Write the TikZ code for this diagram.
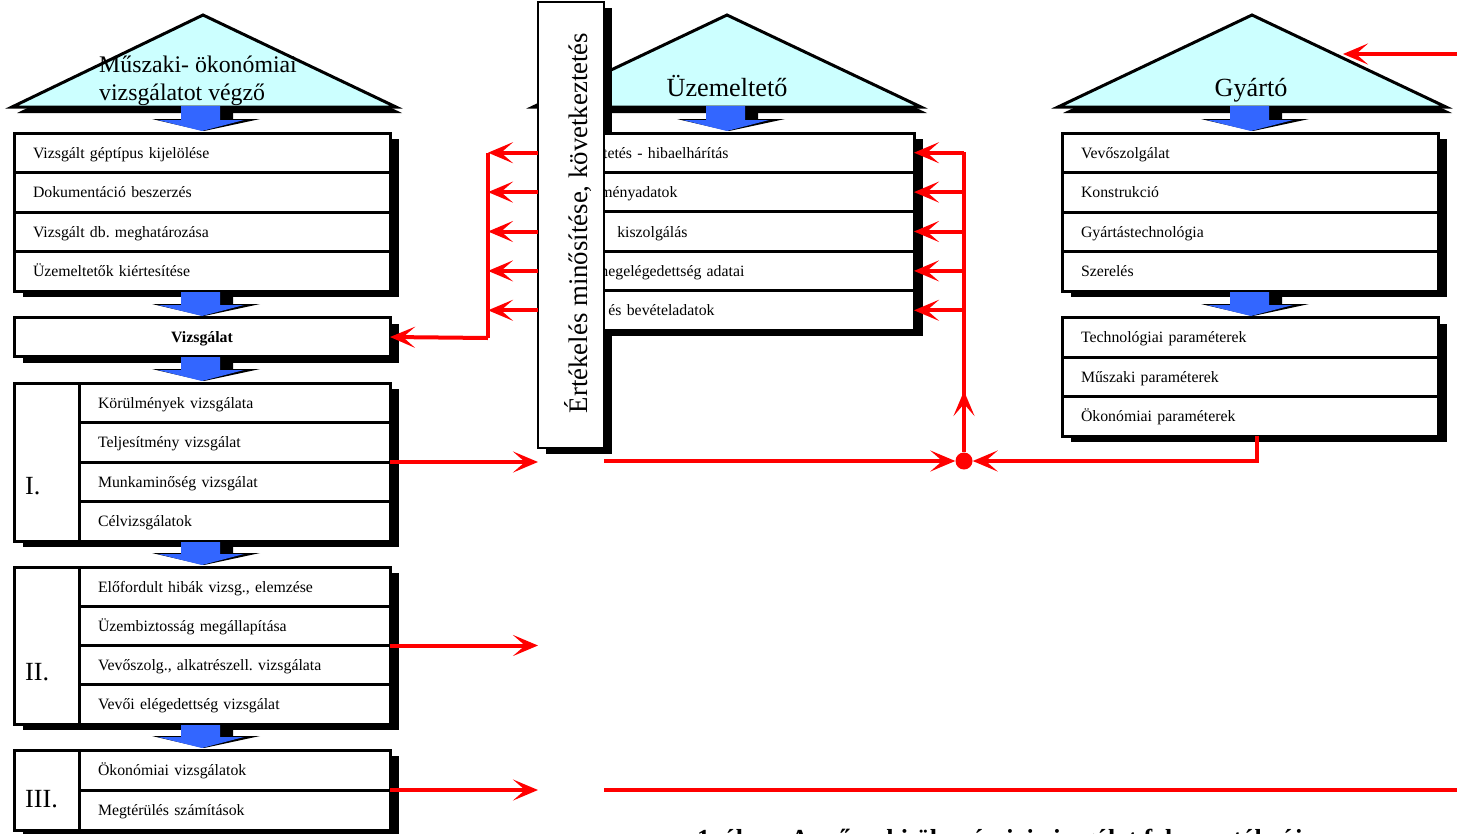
\documentclass[tikz,border=0pt]{standalone}
\usepackage{fontspec}
\usepackage{graphicx}
\setmainfont{Liberation Serif}
\usetikzlibrary{arrows.meta}
\frenchspacing
\definecolor{roofcyan}{HTML}{CCFFFF}
\definecolor{arrowblue}{HTML}{3366FF}
\newcommand\rowfont{\fontsize{15.8}{18}\selectfont}
\newcommand\bigfont{\fontsize{26.2}{30}\selectfont}
\newcommand\blockarr[3]{%
  \fill[black] (#1-21,#2) -- (#1+31,#2) -- (#1+31,#3-12) -- (#1+58,#3-12) -- (#1+2,#3) -- (#1-50,#3-12) -- (#1-21,#3-12) -- cycle;
  \fill[arrowblue] (#1-21,#2) -- (#1+18,#2) -- (#1+18,#3-11) -- (#1+42,#3-11) -- (#1,#3) -- (#1-44,#3-11) -- (#1-21,#3-11) -- cycle;}
\newcommand\house[3]{% left x, apex x, right x
  \fill[black] (#1+5,113) -- (#2+5,21) -- (#3+6,113) -- cycle;
  \draw[line width=3pt, fill=roofcyan] (#1,107) -- (#2,15) -- (#3,107) -- cycle;}
\begin{document}
\begin{tikzpicture}[x=1pt,y=-1pt,
  row/.style={draw=black, line width=3pt, fill=white, anchor=north west, outer sep=0pt,
    minimum height=39.5pt, text width=338pt, inner xsep=19pt, inner ysep=0pt, align=left,
    text height=13pt, text depth=2pt, font=\rowfont},
  nrow/.style={row, text width=273pt},
  mrow/.style={row, text width=344pt, inner xsep=16pt, minimum height=39.4pt},
  labcell/.style={draw=black, line width=3pt, fill=white, anchor=north west, outer sep=0pt, minimum width=65pt, inner sep=0pt},
  labtext/.style={anchor=base west, inner sep=0pt, font=\bigfont},
  bigtext/.style={inner sep=0pt, font=\bigfont},
  shadowbox/.style={fill=black},
  rline/.style={draw=red, line width=4pt},
  rarrow/.style={rline, -{Stealth[length=25pt,width=21pt,inset=12pt]}}]
\useasboundingbox (0,0) rectangle (1457,833);
\clip (0,0) rectangle (1457,833);

% houses
\house{12}{203}{396}
\house{533}{727}{921}
\house{1058}{1252}{1446}
\node[labtext, font=\fontsize{23.8}{28}\selectfont] (h1a) at (99,72) {Műszaki- ökonómiai};
\node[labtext, font=\fontsize{23.8}{28}\selectfont] (h1b) at (99,100) {vizsgálatot végző};
\node[bigtext, anchor=base] (h2) at (727,96) {Üzemeltető};
\node[bigtext, anchor=base] (h3) at (1251,96) {Gyártó};

% left column
\fill[shadowbox] (23,139) rectangle (399,297);
\node[row] (a1) at (14,133) {Vizsgált géptípus kijelölése};
\node[row] (a2) at (14,172.5) {Dokumentáció beszerzés};
\node[row] (a3) at (14,212) {Vizsgált db. meghatározása};
\node[row] (a4) at (14,251.5) {Üzemeltetők kiértesítése};

\fill[shadowbox] (23,323.5) rectangle (399,362.5);
\node[row, minimum height=39pt, align=center, font=\rowfont\bfseries] (viz) at (14,317.5) {Vizsgálat};

\fill[shadowbox] (23,389) rectangle (399,547);
\node[labcell, minimum height=158pt] (g1) at (14,383) {};
\node[nrow] (b1) at (79,383) {Körülmények vizsgálata};
\node[nrow] (b2) at (79,422.5) {Teljesítmény vizsgálat};
\node[nrow] (b3) at (79,462) {Munkaminőség vizsgálat};
\node[nrow] (b4) at (79,501.5) {Célvizsgálatok};
\node[labtext] (g1t) at (25,494) {I.};

\fill[shadowbox] (23,573) rectangle (399,730);
\node[labcell, minimum height=157pt] (g2) at (14,567) {};
\node[nrow, minimum height=39.25pt] (c1) at (79,567) {Előfordult hibák vizsg., elemzése};
\node[nrow, minimum height=39.25pt] (c2) at (79,606.25) {Üzembiztosság megállapítása};
\node[nrow, minimum height=39.25pt] (c3) at (79,645.5) {Vevőszolg., alkatrészell. vizsgálata};
\node[nrow, minimum height=39.25pt] (c4) at (79,684.75) {Vevői elégedettség vizsgálat};
\node[labtext] (g2t) at (25,680) {II.};

\fill[shadowbox] (23,756) rectangle (399,838);
\node[labcell, minimum height=80pt] (g3) at (14,750) {};
\node[nrow, minimum height=40pt] (d1) at (79,750) {Ökonómiai vizsgálatok};
\node[nrow, minimum height=40pt] (d2) at (79,790) {Megtérülés számítások};
\node[labtext] (g3t) at (25,807) {III.};

% evaluation box shadow (behind the middle rows)
\fill[shadowbox] (546,8) rectangle (612,454);

% middle column
\fill[shadowbox] (547,139) rectangle (923,336);
\node[mrow] (m1) at (538,133) {Üzemeltetés - hibaelhárítás};
\node[mrow] (m2) at (538,172.4) {Teljesítményadatok};
\node[mrow] (m3) at (538,211.8) {\makebox[58pt][l]{\scalebox{0.8}[1]{Alkatrész}} kiszolgálás};
\node[mrow] (m4) at (538,251.2) {Vevői megelégedettség adatai};
\node[mrow] (m5) at (538,290.6) {Költség és bevételadatok};

% evaluation box
\node[draw=black, line width=1.5pt, fill=white, rotate=90, outer sep=0pt,
  minimum width=446pt, minimum height=66pt, inner sep=0pt] (eval) at (571,225) {};
\node[bigtext, rotate=90, font=\fontsize{26.8}{30}\selectfont] (evaltxt) at (578,223) {Értékelés minősítése, következtetés};

% right column
\fill[shadowbox] (1071,139) rectangle (1447,297);
\node[row] (r1) at (1062,133) {Vevőszolgálat};
\node[row] (r2) at (1062,172.5) {Konstrukció};
\node[row] (r3) at (1062,212) {Gyártástechnológia};
\node[row] (r4) at (1062,251.5) {Szerelés};

\fill[shadowbox] (1071,323.5) rectangle (1447,442);
\node[row] (p1) at (1062,317.5) {Technológiai paraméterek};
\node[row] (p2) at (1062,357) {Műszaki paraméterek};
\node[row] (p3) at (1062,396.5) {Ökonómiai paraméterek};

% block arrows (over the shadows, ending at the box tops)
\blockarr{202}{106}{131}
\blockarr{202}{292}{316}
\blockarr{202}{357}{381}
\blockarr{202}{542}{565}
\blockarr{202}{725}{748}
\blockarr{727}{106}{131}
\blockarr{1251}{106}{131}
\blockarr{1251}{292}{316}

% red connectors
\coordinate (lj) at (488,338);
\coordinate (rj) at (964,152);
\coordinate (eR) at (1457,790);
\coordinate (tr0) at (1457,54);
\coordinate (tr1) at (1343,54);
\node[circle, fill=red, minimum size=17pt, inner sep=0pt] (dot) at (964,461) {};

\foreach \m in {m1,m2,m3,m4,m5}{
  \draw[rarrow] (eval.north |- \m) -- (lj |- \m);
  \draw[rarrow] (rj |- \m) -- (\m.east);
}
\draw[rline] (lj |- m1) -- (lj);
\draw[rarrow] (lj) -- (viz.east);
\draw[rline] (dot) -- (rj);
\draw[rarrow] (dot) -- (964,391);

\draw[rarrow] (b3.north east) -- (eval.north |- b3.north east);
\draw[rarrow] (eval.south |- dot) -- (dot.west);
\draw[rarrow] ([xshift=7pt]p3.south) |- (dot.east);
\draw[rarrow] (c3.north east) -- (eval.north |- c3.north east);
\draw[rarrow] (d2.north east) -- (eval.north |- d2.north east);
\draw[rline] (eval.south |- d2.north east) -- (eR);
\draw[rarrow] (tr0) -- (tr1);

% caption (cut by the page edge)
\node[anchor=base west, inner sep=0pt, font=\bfseries\fontsize{26}{30}\selectfont] (cap) at (697,847) {1. ábra: A műszaki-ökonómiai vizsgálat folyamatábrája};
\end{tikzpicture}
\end{document}
